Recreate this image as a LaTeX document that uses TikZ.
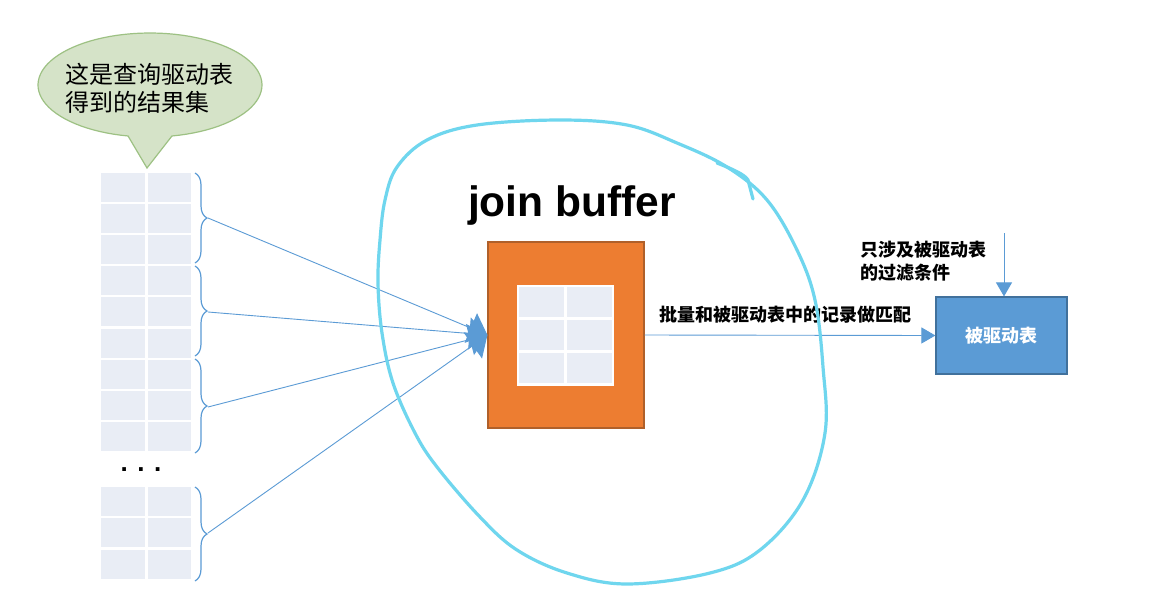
\documentclass[tikz,border=0pt]{standalone}
\usepackage{fontspec}
\setmainfont{Noto Sans CJK SC}
\newfontfamily\latinfont{Liberation Sans}
\usetikzlibrary{arrows.meta,decorations.pathreplacing}
\definecolor{cellc}{HTML}{E9EDF5}
\definecolor{linkc}{HTML}{5B9BD5}
\definecolor{bubblefill}{HTML}{D5E3C8}
\definecolor{bubbleline}{HTML}{9DC183}
\definecolor{bufc}{HTML}{ED7D31}
\definecolor{bufline}{HTML}{B0602A}
\definecolor{tblc}{HTML}{5B9BD5}
\definecolor{tblline}{HTML}{41719C}
\definecolor{loopc}{HTML}{6FD6EE}
\tikzset{
  cell/.style={fill=cellc, draw=white, line width=1.5pt},
  grp/.style={decorate, decoration={brace, amplitude=12pt}, draw=linkc, line width=1.2pt},
  link/.style={draw=linkc, line width=0.9pt},
  bighead/.style={-{Triangle[length=18pt,width=32pt]}},
  smallhead/.style={-{Triangle[length=14pt,width=16pt]}},
  lbl/.style={font=\fontsize{18}{23}\selectfont\bfseries, align=left}
}
\begin{document}
\begin{tikzpicture}[x=1pt,y=-1pt]
\useasboundingbox (0,0) rectangle (1165,614);
\fill[white] (0,0) rectangle (1165,614);

% speech bubble above the result set
\draw[fill=bubblefill, draw=bubbleline, line width=1.2pt]
  plot[domain=101.3:438.7, samples=90] ({150+112*cos(\x)},{85+52*sin(\x)})
  -- (147,168) -- cycle;
\node[anchor=west, align=left, font=\fontsize{24}{28}\selectfont] (note) at (62,88)
  {这是查询驱动表\\得到的结果集};

% result set rows (two columns)
\foreach \r in {0,...,8}{
  \fill[cellc] (101,{173+31.1*\r}) rectangle (145,{202+31.1*\r});
  \fill[cellc] (148,{173+31.1*\r}) rectangle (191,{202+31.1*\r});
}
\foreach \r in {0,1,2}{
  \fill[cellc] (101,{487+31.3*\r}) rectangle (145,{516+31.3*\r});
  \fill[cellc] (148,{487+31.3*\r}) rectangle (191,{516+31.3*\r});
}
\node[font=\latinfont\fontsize{26}{26}\selectfont\bfseries] (dots) at (141,470) {. . .};

% braces grouping the rows
\draw[grp] (195,173) -- (195,263);
\draw[grp] (195,266) -- (195,356);
\draw[grp] (195,359) -- (195,453);
\draw[grp] (195,487) -- (195,581);
\coordinate (t1) at (208,218);
\coordinate (t2) at (208,312);
\coordinate (t3) at (208,407);
\coordinate (t4) at (208,533);

% join buffer
\node[font=\latinfont\fontsize{42.5}{42.5}\selectfont\bfseries] (title) at (572,206) {join buffer};
\node[draw=bufline, fill=bufc, line width=1.2pt, minimum width=156pt, minimum height=186pt,
      inner sep=0pt] (buf) at (566,335) {};
\fill[white] (517,285) rectangle (614,386);
\foreach \r in {0,1,2}{
  \fill[cellc] (519,{287+33*\r}) rectangle (564,{317+33*\r});
  \fill[cellc] (567,{287+33*\r}) rectangle (612,{317+33*\r});
}

% connectors from each batch into the buffer
\foreach \t in {t1,t2,t3,t4}{
  \draw[link, bighead] (\t) -- (buf.west);
}

% driven table
\node[draw=tblline, fill=tblc, line width=1.2pt, minimum width=131pt, minimum height=77pt,
      text=white, font=\fontsize{18}{18}\selectfont\bfseries] (drv) at (1001.5,335.5) {被驱动表};
\draw[link, smallhead] (buf.east) -- (drv.west);
\node[lbl, anchor=south west] (match) at (656,327) {批量和被驱动表中的记录做匹配};

\coordinate (cond) at (1004,233);
\draw[link, smallhead] (cond) -- (drv.north -| cond);
\node[lbl, anchor=north west] (filt) at (857,238) {只涉及被驱动表\\的过滤条件};

% hand-drawn loop around the buffer
\draw[loopc, line width=3.2pt, line cap=round, line join=round]
  plot[smooth cycle, tension=0.6] coordinates {
    (560,120) (627,125) (677,143) (727,167) (767,200) (797,250) (815,300)
    (823,367) (825,433) (803,500) (760,550) (710,573) (627,584) (567,573)
    (517,550) (480,517) (437,467) (415,433) (393,383) (382,333) (378,283)
    (380,240) (385,200) (397,167) (427,140) (477,125)};
\draw[loopc, line width=3.2pt, line cap=round, line join=round]
  (717,163) .. controls (735,170) and (745,175) .. (748,180) -- (753,199);
\end{tikzpicture}
\end{document}
